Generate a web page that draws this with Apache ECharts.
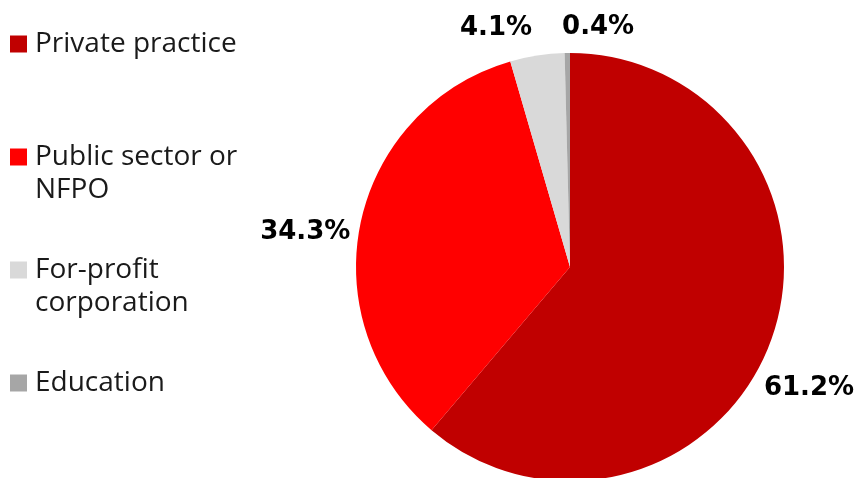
<!DOCTYPE html>
<html>
<head>
<meta charset="utf-8">
<script src="https://cdn.jsdelivr.net/npm/echarts@6/dist/echarts.min.js"></script>
<style>
  html, body { margin: 0; padding: 0; background: #ffffff; }
  #chart { width: 857px; height: 478px; }
</style>
</head>
<body>
<div id="chart"></div>
<script>
// Share of workplace type (%)
const categories = ['Private practice', 'Public sector or NFPO', 'For-profit corporation', 'Education'];
const shares = [61.2, 34.3, 4.1, 0.4];

// Legend text, wrapped as shown
const legendText = {
  'Private practice': 'Private practice',
  'Public sector or NFPO': 'Public sector or\nNFPO',
  'For-profit corporation': 'For-profit\ncorporation',
  'Education': 'Education'
};

const colors = ['#C00000', '#FF0000', '#D9D9D9', '#A6A6A6'];

// Pie geometry
const CX = 570, CY = 267, R = 214;
// Label anchors: polar angle (deg, counter-clockwise from east) and distance from centre
const labelPolar = [[-26.9, 268], [172.5, 267], [107.2, 250], [83.3, 241]];

const chart = echarts.init(document.getElementById('chart'), null, { renderer: 'canvas' });

chart.setOption({
  animation: false,
  backgroundColor: '#ffffff',
  color: colors,
  legend: {
    orient: 'vertical',
    left: 10,
    top: -5.5,
    padding: 0,
    itemGap: 14,
    itemWidth: 17,
    itemHeight: 17,
    icon: 'rect',
    data: categories,
    // pad every entry to three lines so the swatch sits on the first text line
    formatter: function (name) {
      const lines = legendText[name].split('\n');
      while (lines.length < 2) lines.push(' ');
      return ' \n' + lines.join('\n');
    },
    textStyle: {
      fontFamily: 'Open Sans',
      fontSize: 28,
      lineHeight: 33,
      color: '#1a1a1a',
      padding: [0, 0, 0, 3]
    }
  },
  series: [{
    type: 'pie',
    center: [CX, CY],
    radius: R,
    startAngle: 90,
    clockwise: true,
    avoidLabelOverlap: false,
    data: categories.map((c, i) => ({ name: c, value: shares[i] })),
    itemStyle: { borderWidth: 0 },
    label: {
      show: true,
      position: 'outside',
      formatter: p => p.value.toFixed(1) + '%',
      fontFamily: 'DejaVu Sans',
      fontWeight: 'bold',
      fontSize: 26,
      color: '#000000'
    },
    labelLine: { show: false },
    labelLayout: function (params) {
      const pl = labelPolar[params.dataIndex];
      const a = pl[0] * Math.PI / 180;
      return {
        x: CX + pl[1] * Math.cos(a),
        y: CY - pl[1] * Math.sin(a),
        align: 'center',
        verticalAlign: 'middle'
      };
    },
    emphasis: { disabled: true }
  }]
});
</script>
</body>
</html>
